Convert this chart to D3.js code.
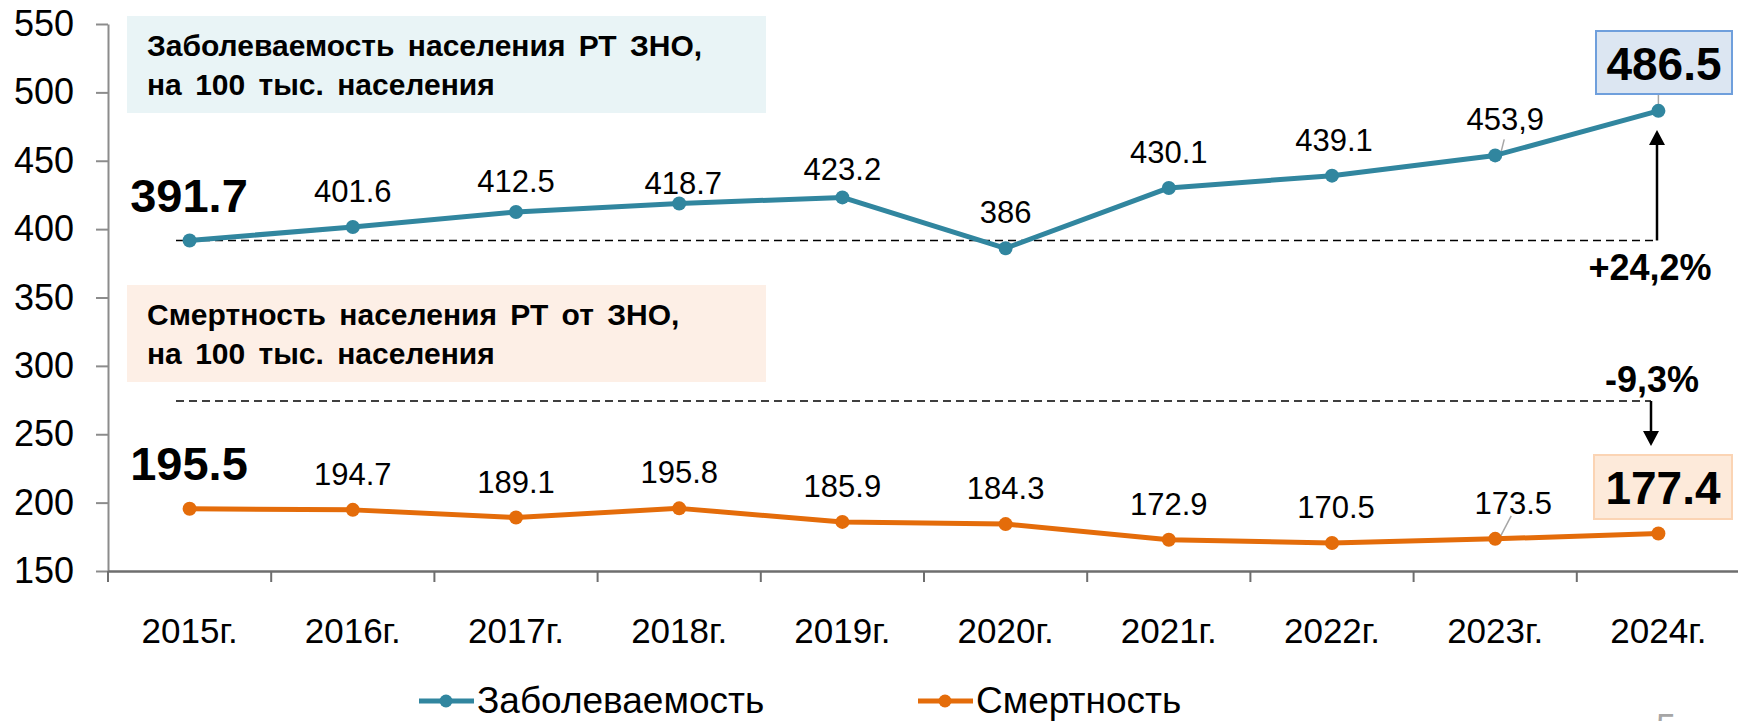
<!DOCTYPE html>
<html>
<head>
<meta charset="utf-8">
<script src="https://cdn.jsdelivr.net/npm/d3@7"></script>
<style>
  body { margin: 0; background: #fff; }
  svg { display: block; font-family: "Liberation Sans", Arial, sans-serif; }
</style>
</head>
<body>
<svg id="chart" width="1738" height="721"></svg>
<script>
// данные
var years = ["2015г.", "2016г.", "2017г.", "2018г.", "2019г.", "2020г.", "2021г.", "2022г.", "2023г.", "2024г."];
var incidence = [391.7, 401.6, 412.5, 418.7, 423.2, 386, 430.1, 439.1, 453.9, 486.5];
var mortality = [195.5, 194.7, 189.1, 195.8, 185.9, 184.3, 172.9, 170.5, 173.5, 177.4];
var incidenceLabels = ["391.7", "401.6", "412.5", "418.7", "423.2", "386", "430.1", "439.1", "453,9", "486.5"];
var mortalityLabels = ["195.5", "194.7", "189.1", "195.8", "185.9", "184.3", "172.9", "170.5", "173.5", "177.4"];
var yTicks = [150, 200, 250, 300, 350, 400, 450, 500, 550];
var seriesNames = ["Заболеваемость", "Смертность"];
var changeLabels = ["+24,2%", "-9,3%"];
var titleInc = ["Заболеваемость населения РТ ЗНО,", "на 100 тыс. населения"];
var titleMort = ["Смертность населения РТ от ЗНО,", "на 100 тыс. населения"];
var lowRef = 274.3; // уровень нижней пунктирной линии

var colInc = "#31869f", colMort = "#e46c0a";

var svg = d3.select("#chart");

var x = d3.scaleBand().domain(years).range([108, 1740]);
var y = d3.scaleLinear().domain([150, 550]).range([571, 24]);
function cx(i) { return x(years[i]) + x.bandwidth() / 2; }

// подписи-блоки
function titleBox(lines, top, fill) {
  svg.append("rect").attr("x", 127).attr("y", top).attr("width", 639).attr("height", 97).attr("fill", fill);
  var t = svg.append("text").attr("x", 147).attr("y", top + 40)
    .attr("font-size", 30).attr("font-weight", "bold").attr("word-spacing", 5).attr("fill", "#000");
  t.append("tspan").attr("x", 147).text(lines[0]);
  t.append("tspan").attr("x", 147).attr("dy", 39).text(lines[1]);
}
titleBox(titleInc, 16, "#e9f4f6");
titleBox(titleMort, 285, "#fdefe6");

// оси
var yAxis = svg.append("g").attr("transform", "translate(108,0)")
  .call(d3.axisLeft(y).tickValues(yTicks).tickSize(12).tickSizeOuter(0).tickPadding(22));
yAxis.select(".domain").attr("stroke", "#8c8c8c").attr("stroke-width", 2);
yAxis.selectAll(".tick line").attr("stroke", "#8c8c8c").attr("stroke-width", 2);
yAxis.selectAll(".tick text").attr("font-size", 36).attr("fill", "#000")
  .attr("font-family", "Liberation Sans, Arial, sans-serif");

var xAxis = svg.append("g").attr("transform", "translate(0,571)")
  .call(d3.axisBottom(x).tickSize(0).tickPadding(47));
xAxis.select(".domain").attr("stroke", "#6e6e6e").attr("stroke-width", 2.5);
xAxis.selectAll(".tick text").attr("font-size", 35).attr("fill", "#000")
  .attr("font-family", "Liberation Sans, Arial, sans-serif");

var bounds = years.map(function(d) { return x(d); }).concat([x.range()[1]]);
svg.selectAll(".xb").data(bounds).enter().append("line")
  .attr("x1", function(d) { return d; }).attr("x2", function(d) { return d; })
  .attr("y1", 571).attr("y2", 582).attr("stroke", "#6e6e6e").attr("stroke-width", 2);

// пунктир и стрелки
var xRef0 = 176;
var xUp = 1657, xDown = 1651;
svg.append("line").attr("x1", xRef0).attr("x2", xUp).attr("y1", y(incidence[0])).attr("y2", y(incidence[0]))
  .attr("stroke", "#000").attr("stroke-width", 1.6).attr("stroke-dasharray", "8,5");
svg.append("line").attr("x1", xUp).attr("x2", xUp).attr("y1", y(incidence[0])).attr("y2", 142)
  .attr("stroke", "#000").attr("stroke-width", 2.5);
svg.append("path").attr("d", "M" + (xUp - 8) + ",145L" + (xUp + 8) + ",145L" + xUp + ",130Z").attr("fill", "#000");

svg.append("line").attr("x1", xRef0).attr("x2", xDown).attr("y1", y(lowRef)).attr("y2", y(lowRef))
  .attr("stroke", "#000").attr("stroke-width", 1.6).attr("stroke-dasharray", "8,5");
svg.append("line").attr("x1", xDown).attr("x2", xDown).attr("y1", y(lowRef)).attr("y2", 433)
  .attr("stroke", "#000").attr("stroke-width", 2.5);
svg.append("path").attr("d", "M" + (xDown - 8) + ",431L" + (xDown + 8) + ",431L" + xDown + ",446Z").attr("fill", "#000");

svg.append("text").attr("x", 1650).attr("y", 280).attr("text-anchor", "middle")
  .attr("font-size", 36).attr("font-weight", "bold").text(changeLabels[0]);
svg.append("text").attr("x", 1652).attr("y", 392).attr("text-anchor", "middle")
  .attr("font-size", 36).attr("font-weight", "bold").text(changeLabels[1]);

// линии
var line = d3.line().x(function(d, i) { return cx(i); }).y(function(d) { return y(d); });

function drawSeries(vals, col) {
  svg.append("path").datum(vals).attr("d", line).attr("fill", "none")
    .attr("stroke", col).attr("stroke-width", 5).attr("stroke-linejoin", "round");
  svg.selectAll(null).data(vals).enter().append("circle")
    .attr("cx", function(d, i) { return cx(i); }).attr("cy", function(d) { return y(d); })
    .attr("r", 7).attr("fill", col);
}

// выноски для 2023
svg.append("line").attr("x1", cx(8) + 5).attr("y1", y(incidence[8])).attr("x2", cx(8) + 9).attr("y2", y(incidence[8]) - 16)
  .attr("stroke", "#a6a6a6").attr("stroke-width", 1.5);
svg.append("line").attr("x1", cx(8) + 5).attr("y1", y(mortality[8]) - 2).attr("x2", cx(8) + 16).attr("y2", y(mortality[8]) - 23)
  .attr("stroke", "#a6a6a6").attr("stroke-width", 1.5);
svg.append("line").attr("x1", cx(9)).attr("y1", y(incidence[9])).attr("x2", cx(9)).attr("y2", 94)
  .attr("stroke", "#a6a6a6").attr("stroke-width", 1.5);

drawSeries(incidence, colInc);
drawSeries(mortality, colMort);

// подписи значений
var incShift = [0, 0, 5, 15, 8, 0, 0, 0, 0, 0];
var incDx = [0, 0, 0, 4, 0, 0, 0, 2, 10, 0];
var mortDx = [0, 0, 0, 0, 0, 0, 0, 4, 18, 0];
function valueLabels(vals, labels, dys, dxs) {
  svg.selectAll(null).data(vals).enter().filter(function(d, i) { return i > 0 && i < 9; })
    .append("text")
    .attr("x", function(d, i) { return cx(i + 1) + dxs[i + 1]; })
    .attr("y", function(d, i) { return y(d) - 25 + dys[i + 1]; })
    .attr("text-anchor", "middle").attr("font-size", 31).attr("fill", "#000")
    .text(function(d, i) { return labels[i + 1]; });
}
valueLabels(incidence, incidenceLabels, incShift, incDx);
valueLabels(mortality, mortalityLabels, [0,0,0,0,0,0,0,0,0,0], mortDx);

// первые значения крупно
svg.append("text").attr("x", 189).attr("y", 212).attr("text-anchor", "middle")
  .attr("font-size", 47).attr("font-weight", "bold").text(incidenceLabels[0]);
svg.append("text").attr("x", 189).attr("y", 480).attr("text-anchor", "middle")
  .attr("font-size", 47).attr("font-weight", "bold").text(mortalityLabels[0]);

// последние значения в рамках
svg.append("rect").attr("x", 1596).attr("y", 31).attr("width", 136).attr("height", 63)
  .attr("fill", "#dce6f2").attr("stroke", "#6f9fdc").attr("stroke-width", 2);
svg.append("text").attr("x", 1664).attr("y", 80).attr("text-anchor", "middle")
  .attr("font-size", 46).attr("font-weight", "bold").text(incidenceLabels[9]);
svg.append("rect").attr("x", 1594).attr("y", 455).attr("width", 138).attr("height", 64)
  .attr("fill", "#fdeada").attr("stroke", "#fbd4b4").attr("stroke-width", 2);
svg.append("text").attr("x", 1663).attr("y", 504).attr("text-anchor", "middle")
  .attr("font-size", 46).attr("font-weight", "bold").text(mortalityLabels[9]);

// легенда
var legend = [{x: 419, col: colInc}, {x: 918, col: colMort}];
legend.forEach(function(l, i) {
  svg.append("line").attr("x1", l.x).attr("x2", l.x + 55).attr("y1", 701).attr("y2", 701)
    .attr("stroke", l.col).attr("stroke-width", 5);
  svg.append("circle").attr("cx", l.x + 27).attr("cy", 701).attr("r", 6.5).attr("fill", l.col);
  svg.append("text").attr("x", l.x + 58).attr("y", 713).attr("font-size", 37).text(seriesNames[i]);
});

// номер слайда (обрезан краем, как в оригинале)
svg.append("text").attr("x", 1656).attr("y", 740).attr("font-size", 36).attr("fill", "#a6a6a6").text("5");
</script>
</body>
</html>
